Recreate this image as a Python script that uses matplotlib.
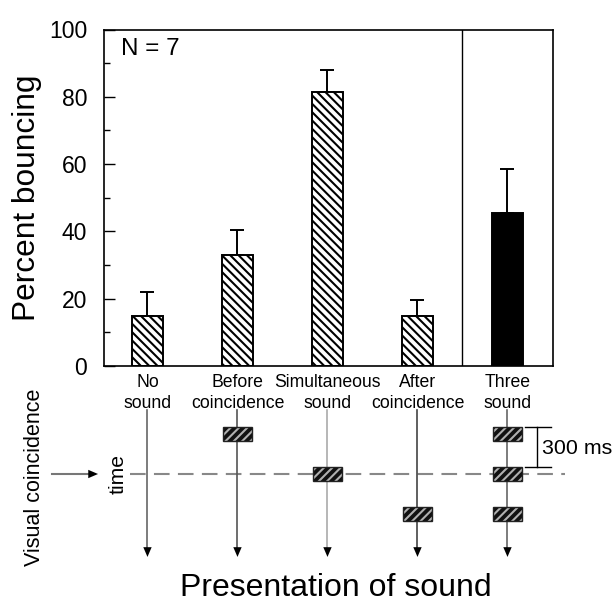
import numpy as np
import matplotlib
matplotlib.use("Agg")
import matplotlib.pyplot as plt
from matplotlib.patches import Rectangle

plt.rcParams['font.family'] = ['Liberation Sans', 'DejaVu Sans']
plt.rcParams['hatch.linewidth'] = 1.5

# data
conditions = ["No\nsound", "Before\ncoincidence", "Simultaneous\nsound",
              "After\ncoincidence", "Three\nsound"]
positions = [0, 1, 2, 3, 4]
percent = [15, 33, 81.5, 15, 45.5]
errors = [7, 7.5, 6.5, 4.5, 13]
hatches = ["\\\\\\\\"] * 4 + [None]
facecolors = ["white"] * 4 + ["black"]
# sound onset times relative to visual coincidence (ms), per condition
sound_times = [[], [-300], [0], [300], [-300, 0, 300]]

W, H = 613, 602
fig = plt.figure(figsize=(W / 100, H / 100), dpi=100)

# upper bar chart, pixel box
L, R, T, B = 104, 553.3, 29.5, 366
ax = fig.add_axes([L / W, 1 - B / H, (R - L) / W, (B - T) / H])
xlim = (-0.483, 4.509)
ax.set_xlim(*xlim)
ax.set_ylim(0, 100)

for x, p, e, h, fc in zip(positions, percent, errors, hatches, facecolors):
    ax.bar(x, p, width=0.35, color=fc, edgecolor="black", linewidth=1.4,
           hatch=h, zorder=2)
    ax.errorbar(x, p, yerr=[[0], [e]], fmt="none", ecolor="black",
                elinewidth=1.4, capsize=5, capthick=1.4, zorder=1)

ax.axvline(3.5, color="black", linewidth=1)
ax.set_yticks(np.arange(0, 101, 20))
ax.set_yticks(np.arange(10, 100, 20), minor=True)
ax.tick_params(axis="y", which="major", direction="in", length=7.7, width=1,
               labelsize=16.5, pad=12)
ax.tick_params(axis="y", which="minor", direction="in", length=4.3, width=1)
ax.set_xticks([])
for s in ax.spines.values():
    s.set_linewidth(1.2)
ax.set_ylabel("Percent bouncing", fontsize=22.8, labelpad=5)
ax.text(0.038, 0.924, "N = 7", transform=ax.transAxes, fontsize=17.5,
        va="baseline", ha="left")

# lower timeline diagram, spans the full width, same x mapping as the bars
upp = (xlim[1] - xlim[0]) / (R - L)
top_px, bot_px = 370, 602
zero_px, ms_per_px = 474, 7.5
lax = fig.add_axes([0, 0, 1, 1 - top_px / H])
lax.set_xlim(xlim[0] - L * upp, xlim[1] + (W - R) * upp)
lax.set_ylim((bot_px - zero_px) * ms_per_px, (top_px - zero_px) * ms_per_px)
lax.axis("off")


def px_x(p):
    # figure pixel column -> lower-axes x units
    return xlim[0] + (p - L) * upp


def px_y(p):
    # figure pixel row -> lower-axes ms units
    return (p - zero_px) * ms_per_px


# condition labels, one text per line
for x, lab in zip(positions, conditions):
    for line, base in zip(lab.split("\n"), [387, 408]):
        lax.text(x, px_y(base), line, fontsize=12.7, ha="center",
                 va="baseline")

# visual coincidence line
lax.plot([px_x(130), px_x(565)], [0, 0], color="#888888",
         linewidth=1.5, linestyle=(0, (7.5, 4)), zorder=0)
lax.plot([px_x(52), px_x(92)], [0, 0], color="#777777", linewidth=1.5)
lax.annotate("", xy=(px_x(98), 0), xytext=(px_x(88), 0),
             arrowprops=dict(arrowstyle="-|>,head_length=0.7,head_width=0.3",
                             color="black", lw=0.01, shrinkA=0, shrinkB=0))
lax.text(px_x(118), 0, "time", rotation=90, fontsize=15.2,
         ha="center", va="center")
lax.text(px_x(35), 25, "Visual coincidence", rotation=90,
         fontsize=15.5, ha="center", va="center")

rw, rh = 0.322, 110
line_colors = ["#666666", "#555555", "#aaaaaa", "#444444", "#666666"]
for x, times, lc in zip(positions, sound_times, line_colors):
    lax.plot([x, x], [-480, 560], color=lc, linewidth=1.2, zorder=1)
    lax.annotate("", xy=(x, 622), xytext=(x, 540),
                 arrowprops=dict(arrowstyle="-|>,head_length=0.7,head_width=0.3",
                                 color="black", lw=0.01, shrinkA=0, shrinkB=0))
    for t in times:
        lax.add_patch(Rectangle((x - rw / 2, t - rh / 2), rw, rh,
                                facecolor="#111111", edgecolor="#b0b0b0",
                                hatch="////", linewidth=0, zorder=3))
        lax.add_patch(Rectangle((x - rw / 2, t - rh / 2), rw, rh,
                                facecolor="none", edgecolor="#222222",
                                linewidth=1, zorder=4))

# 300 ms bracket, from top of first sound rect to top of second
x3 = positions[4]
b_top, b_bot = -300 - rh / 2, 0 - rh / 2
lax.plot([x3 + 0.194, x3 + 0.483], [b_top, b_top], color="black", linewidth=1)
lax.plot([x3 + 0.194, x3 + 0.483], [b_bot, b_bot], color="black", linewidth=1)
lax.plot([x3 + 0.328, x3 + 0.328], [b_top, b_bot], color="black", linewidth=1)
lax.text(x3 + 0.383, -195, "300 ms", fontsize=15.4, ha="left", va="center")

fig.text(336 / W, 1 - 596 / H, "Presentation of sound", fontsize=23,
         ha="center", va="baseline")

fig.savefig("out.png", dpi=100)
